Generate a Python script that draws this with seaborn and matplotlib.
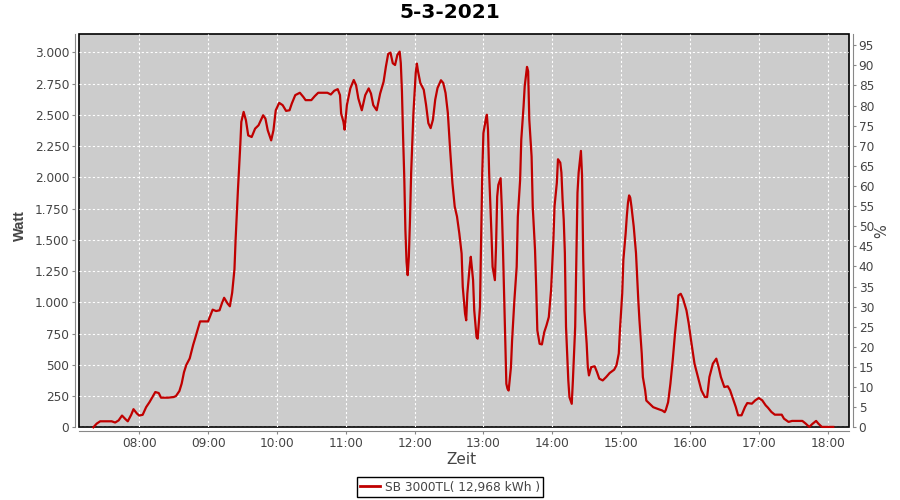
import pandas as pd
import numpy as np
import matplotlib
matplotlib.use('Agg')
import matplotlib.pyplot as plt
import matplotlib.dates as mdates
from matplotlib.ticker import FuncFormatter, MultipleLocator
from matplotlib.lines import Line2D
import seaborn as sns

# Production data (time of day, watt)
times = [
    "07:20", "07:23", "07:26", "07:36", "07:39", "07:42", "07:45", "07:48", "07:50", "07:53",
    "07:55", "07:58", "08:00", "08:03", "08:06", "08:09", "08:12", "08:14", "08:17", "08:19",
    "08:25", "08:30", "08:32", "08:35", "08:37", "08:39", "08:41", "08:44", "08:47", "08:49",
    "08:51", "08:53", "09:00", "09:04", "09:07", "09:10", "09:12", "09:14", "09:17", "09:19",
    "09:21", "09:23", "09:24", "09:26", "09:27", "09:28", "09:29", "09:31", "09:33", "09:35",
    "09:38", "09:41", "09:44", "09:46", "09:48", "09:50", "09:52", "09:55", "09:57", "09:59",
    "10:02", "10:05", "10:08", "10:11", "10:13", "10:16", "10:20", "10:23", "10:25", "10:30",
    "10:33", "10:36", "10:44", "10:47", "10:50", "10:53", "10:55", "10:56", "10:58", "10:59",
    "11:01", "11:04", "11:07", "11:09", "11:11", "11:14", "11:17", "11:20", "11:22", "11:24",
    "11:27", "11:30", "11:33", "11:35", "11:37", "11:39", "11:41", "11:43", "11:45", "11:47",
    "11:48", "11:49", "11:50", "11:51", "11:52", "11:53", "11:54", "11:55", "11:56", "11:57",
    "11:59", "12:01", "12:02", "12:03", "12:05", "12:08", "12:10", "12:12", "12:14", "12:16",
    "12:18", "12:20", "12:23", "12:25", "12:27", "12:29", "12:31", "12:33", "12:35", "12:37",
    "12:39", "12:41", "12:42", "12:44", "12:45", "12:46", "12:48", "12:49", "12:51", "12:52",
    "12:54", "12:55", "12:57", "12:58", "12:59", "13:00", "13:02", "13:03", "13:04", "13:05",
    "13:07", "13:08", "13:10", "13:11", "13:12", "13:13", "13:15", "13:16", "13:17", "13:18",
    "13:19", "13:20", "13:21", "13:22", "13:24", "13:25", "13:27", "13:29", "13:30", "13:32",
    "13:33", "13:35", "13:36", "13:38", "13:39", "13:40", "13:42", "13:43", "13:45", "13:46",
    "13:47", "13:49", "13:51", "13:53", "13:55", "13:57", "13:59", "14:01", "14:02", "14:04",
    "14:05", "14:07", "14:08", "14:09", "14:10", "14:11", "14:12", "14:14", "14:15", "14:17",
    "14:18", "14:20", "14:21", "14:22", "14:23", "14:25", "14:26", "14:27", "14:28", "14:30",
    "14:31", "14:32", "14:34", "14:37", "14:39", "14:41", "14:44", "14:47", "14:50", "14:54",
    "14:56", "14:58", "14:59", "15:01", "15:02", "15:04", "15:05", "15:06", "15:07", "15:08",
    "15:09", "15:11", "15:13", "15:14", "15:15", "15:16", "15:18", "15:19", "15:21", "15:22",
    "15:25", "15:28", "15:32", "15:36", "15:38", "15:39", "15:41", "15:43", "15:45", "15:47",
    "15:49", "15:50", "15:52", "15:54", "15:57", "15:59", "16:01", "16:04", "16:07", "16:10",
    "16:13", "16:15", "16:17", "16:20", "16:23", "16:25", "16:27", "16:30", "16:33", "16:35",
    "16:38", "16:40", "16:42", "16:45", "16:48", "16:50", "16:54", "16:57", "17:00", "17:03",
    "17:06", "17:08", "17:11", "17:14", "17:20", "17:22", "17:26", "17:29", "17:38", "17:41",
    "17:44", "17:47", "17:50", "17:52", "17:55", "18:05",
]
watt = [
    0, 30, 48, 48, 38, 55, 94, 65, 48, 100,
    145, 110, 94, 100, 161, 202, 250, 282, 274, 237,
    237, 242, 250, 290, 350, 440, 498, 551, 659, 720,
    785, 847, 847, 941, 930, 936, 990, 1036, 990, 968,
    1076, 1264, 1500, 1893, 2067, 2242, 2443, 2523, 2456, 2335,
    2322, 2389, 2416, 2456, 2496, 2469, 2376, 2295, 2376, 2536,
    2595, 2577, 2531, 2536, 2590, 2657, 2676, 2643, 2617, 2617,
    2649, 2676, 2676, 2662, 2692, 2705, 2657, 2510, 2443, 2381,
    2577, 2711, 2778, 2737, 2630, 2536, 2657, 2711, 2670, 2577,
    2536, 2670, 2764, 2885, 2987, 2997, 2912, 2898, 2979, 3005,
    2912, 2684, 2322, 2005, 1578, 1324, 1217, 1364, 1658, 2032,
    2514, 2834, 2909, 2848, 2754, 2700, 2580, 2433, 2393, 2460,
    2621, 2714, 2776, 2754, 2674, 2514, 2219, 1952, 1765, 1685,
    1551, 1390, 1123, 909, 856, 1070, 1284, 1364, 1177, 936,
    722, 709, 963, 1497, 2032, 2353, 2460, 2500, 2380, 2032,
    1551, 1284, 1177, 1444, 1845, 1939, 1992, 1765, 1444, 1070,
    695, 348, 308, 294, 481, 695, 1016, 1284, 1685, 1979,
    2300, 2567, 2728, 2883, 2848, 2460, 2166, 1765, 1417, 1123,
    775, 668, 663, 760, 816, 882, 1100, 1500, 1769, 1956,
    2144, 2117, 2037, 1822, 1662, 1394, 804, 375, 241, 188,
    375, 804, 1340, 1876, 2037, 2211, 2010, 1340, 938, 670,
    482, 415, 482, 488, 442, 389, 375, 402, 434, 461,
    496, 590, 777, 1072, 1340, 1554, 1688, 1796, 1855, 1836,
    1769, 1608, 1394, 1206, 1018, 858, 590, 402, 295, 214,
    188, 161, 147, 134, 121, 139, 201, 349, 535, 749,
    935, 1055, 1068, 1028, 935, 828, 695, 509, 402, 296,
    242, 242, 402, 509, 549, 482, 402, 322, 328, 296,
    216, 162, 96, 96, 162, 194, 189, 216, 234, 216,
    176, 157, 123, 101, 101, 69, 43, 51, 51, 29,
    3, 29, 51, 29, 3, 3,
]

day = "2021-03-05"
title = "5-3-2021"
series_label = "SB 3000TL( 12,968 kWh )"
line_color = "#c00000"
text_color = "#444444"
axis_gray = "#888888"

df = pd.DataFrame({"time": pd.to_datetime([f"{day} {t}" for t in times]), "watt": watt})

plt.rcParams['font.family'] = ['DejaVu Sans']

fig = plt.figure(figsize=(9, 5), dpi=100)
ax = fig.add_axes([79 / 900, 1 - 427.3 / 500, 770 / 900, 393.3 / 500])

sns.lineplot(data=df, x="time", y="watt", ax=ax, color=line_color, linewidth=1.6, legend=False)
ax.lines[0].set_clip_on(False)  # keep the zero stretch visible on the frame

# plot area
ax.set_facecolor("#cccccc")
ax.patch.set_edgecolor("black")
ax.patch.set_linewidth(1.2)
ax.set_xlim(pd.Timestamp(f"{day} 07:07:30"), pd.Timestamp(f"{day} 18:18:40"))
ax.set_ylim(0, 3146)

ax.xaxis.set_major_locator(mdates.HourLocator())
ax.xaxis.set_major_formatter(mdates.DateFormatter("%H:%M"))
ax.yaxis.set_major_locator(MultipleLocator(250))
ax.yaxis.set_major_formatter(FuncFormatter(lambda v, p: f"{int(v):,}".replace(",", ".")))

ax.grid(True, color="white", linestyle=(0, (2, 2)), linewidth=0.8)
ax.set_axisbelow(True)

for side in ["left", "bottom"]:
    ax.spines[side].set_position(("outward", 3))
    ax.spines[side].set_color(axis_gray)
for side in ["top", "right"]:
    ax.spines[side].set_visible(False)

ax.tick_params(axis="both", direction="out", length=2, width=0.8, color=axis_gray,
               labelcolor=text_color, labelsize=8.7, pad=2)

ax.set_xlabel("Zeit", fontsize=11, color=text_color, va="center")
ax.set_ylabel("Watt", fontsize=10.5, color=text_color, family=["Liberation Sans"],
              fontweight="bold", va="center", ha="center")
ax.xaxis.set_label_coords(0.497, -0.083)
ax.yaxis.set_label_coords(-0.0766, 0.513)

# percent axis on the right
ax2 = ax.twinx()
ax2.set_ylim(0, 97.8)
ax2.yaxis.set_major_locator(MultipleLocator(5))
for side in ["left", "bottom", "top"]:
    ax2.spines[side].set_visible(False)
ax2.spines["right"].set_position(("outward", 3))
ax2.spines["right"].set_color(axis_gray)
ax2.tick_params(axis="y", direction="out", length=2, width=0.8, color=axis_gray,
                labelcolor=text_color, labelsize=8.7, pad=2)
ax2.set_ylabel("%", fontsize=10.5, color=text_color, rotation=90, va="center", ha="center")
ax2.yaxis.set_label_coords(1.0429, 0.5)

fig.suptitle(title, x=0.5, y=1 - 13 / 500, va="center", fontsize=14.5, fontweight="bold")

handle = Line2D([], [], color=line_color, linewidth=2)
leg = fig.legend([handle], [series_label], loc="center", bbox_to_anchor=(0.5, 1 - 487 / 500),
                 frameon=True, fancybox=False, framealpha=1, edgecolor="black",
                 fontsize=8.7, handlelength=1.6, handletextpad=0.4, borderpad=0.3,
                 borderaxespad=0)
leg.get_frame().set_linewidth(1.0)
for txt in leg.get_texts():
    txt.set_color(text_color)

fig.savefig("out.png", dpi=100)
plt.close(fig)
